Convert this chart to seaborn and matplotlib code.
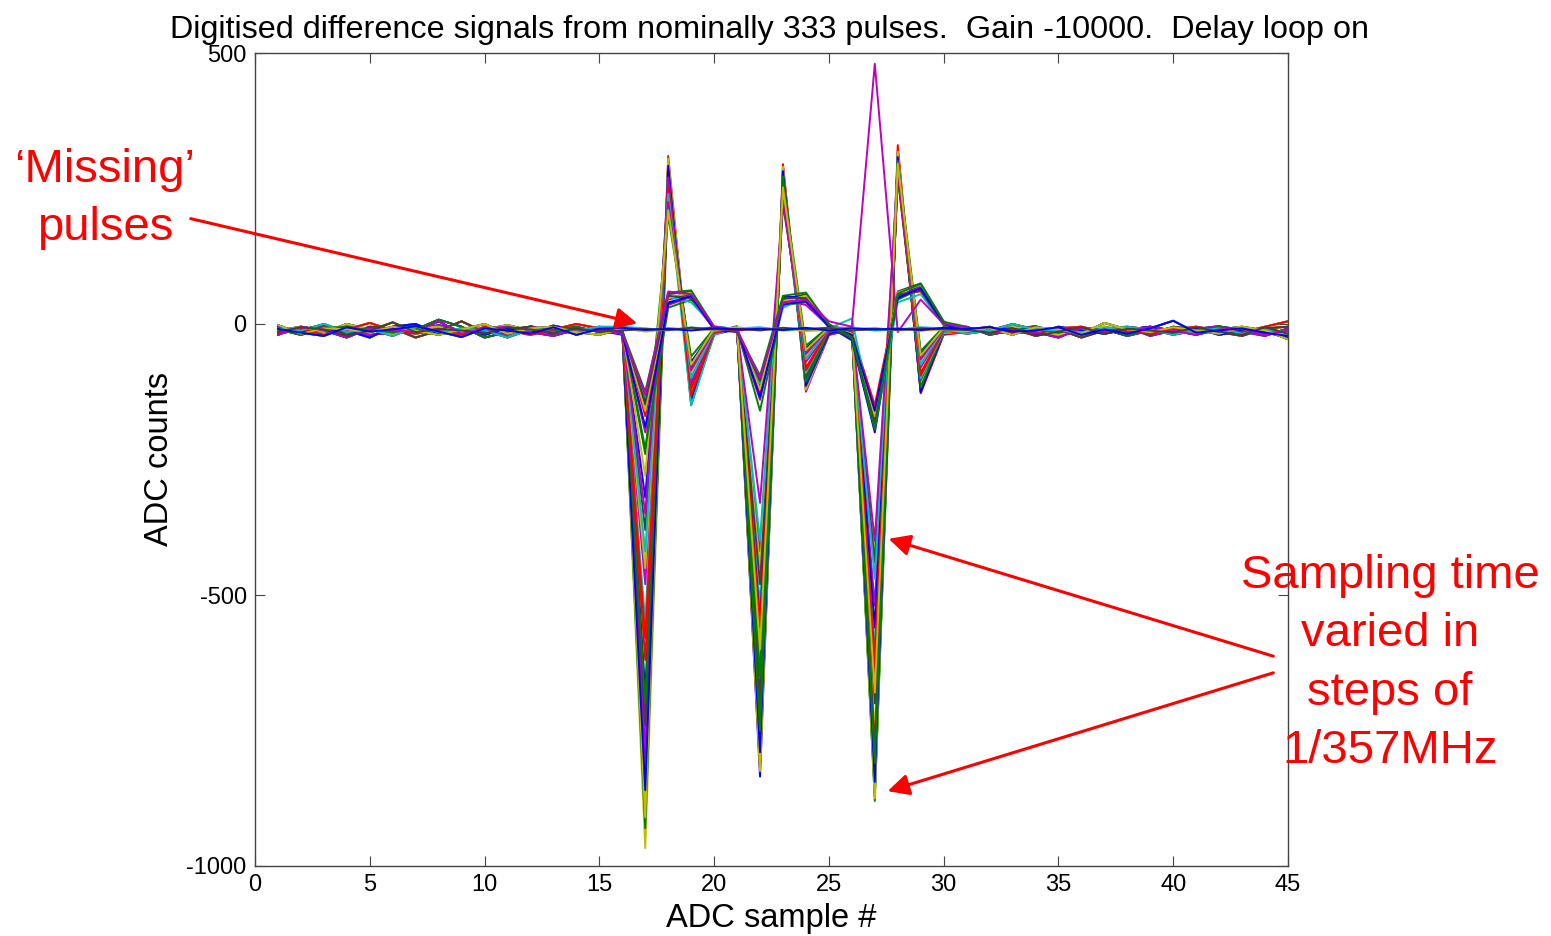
import numpy as np
import pandas as pd
import matplotlib
matplotlib.use("Agg")
import matplotlib.pyplot as plt
import seaborn as sns

# ADC sample index
samples = list(range(1, 46))

# baseline noise before the pulse train (samples 1..15)
pre_noise = [
    [-12, -5, -15, 0, -10, -20, -8, -5, -15, -10, -2, -12, -8, -18, -10],
    [-18, -10, -2, -20, -5, -8, -25, -12, 5, -15, -10, -5, -20, -8, -12],
    [-5, -15, -10, -12, -25, -5, 0, -18, -10, -20, -8, -15, -3, -12, -6],
    [-10, -20, -8, -5, -12, -15, -10, 8, -5, -25, -15, -8, -12, -5, -15],
    [-15, -8, -20, -10, 2, -12, -18, -10, -20, -5, -12, -20, -10, 0, -8],
    [-8, -12, 0, -15, -10, -22, -5, -15, -8, -12, -25, -10, -15, -12, -5],
    [-20, -5, -12, -25, -8, -10, -15, 5, -18, -8, -5, -15, -22, -10, -12],
    [-2, -18, -8, -10, -15, -5, -12, -20, -10, 0, -18, -8, -5, -15, -20],
    [-14, -6, -10, -22, -12, 3, -15, -9, -12, -18, -6, -10, -16, -9, -14],
    [-9, -16, -22, -6, -14, -10, -4, -14, -24, -8, -12, -18, -6, -20, -9],
    [-16, -11, -6, -14, -20, -16, -12, -2, -12, -14, -20, -4, -14, -16, -11],
]

# baseline noise after the pulse train (samples 31..45)
post_noise = [
    [-8, -15, -5, -12, -20, -10, -5, -15, -8, -12, -18, -10, -5, -12, -20],
    [-12, -5, -18, -8, -10, -25, -12, -8, -20, -5, -10, -15, -22, -8, -5],
    [-15, -10, -8, -20, -5, -12, -18, -10, -5, -15, -8, -20, -12, -15, -25],
    [-5, -20, -12, -5, -15, -8, -10, -22, -12, -8, -15, -5, -10, -18, -10],
    [-10, -8, -15, -18, -8, -5, -15, -12, -18, -10, -5, -12, -15, -5, 5],
    [-18, -12, 0, -10, -12, -15, -8, -5, -10, -20, -12, -8, -18, -10, -15],
    [-6, -18, -10, -15, -25, -8, -12, -15, -5, -12, -20, -10, -8, -20, -12],
    [-14, -8, -20, -6, -10, -18, 2, -10, -15, -6, -12, -18, -6, -12, -28],
    [-11, -16, -8, -22, -14, -6, -18, -9, -12, -16, -6, -14, -20, -6, -18],
    [-9, -6, -14, -12, -6, -20, -10, -18, -8, 6, -16, -12, -8, -16, -22],
    [-16, -12, -10, -4, -18, -12, -14, -6, -22, -12, -9, -4, -14, -22, -8],
]

# pulse window, samples 16..30, one row per pulse
pulse_windows = [
    # deep (sampled near the peak)
    [-10, -900, 300, -135, -18, -8, -835, 285, -120, -20, -10, -870, 320, -125, -18],
    [-5, -850, 280, -150, -15, -5, -780, 270, -105, -12, -8, -880, 300, -110, -15],
    [-12, -800, 310, -120, -12, -10, -820, 295, -115, -18, -5, -840, 330, -128, -20],
    [-8, -760, 270, -140, -20, -6, -740, 260, -95, -10, -12, -800, 290, -100, -12],
    [-10, -720, 290, -110, -15, -4, -800, 290, -125, -20, -10, -850, 310, -105, -15],
    [-6, -967, 260, -125, -10, -9, -700, 250, -110, -15, -6, -760, 280, -120, -10],
    [-14, -880, 250, -130, -18, -7, -650, 240, -90, -12, -8, -700, 270, -95, -12],
    [-9, -680, 240, -100, -12, -10, -760, 280, -100, -16, -7, -820, 295, -115, -18],
    [-11, -930, 285, -145, -16, -6, -810, 275, -118, -14, -9, -865, 305, -112, -16],
    [-7, -820, 265, -128, -14, -8, -720, 265, -100, -12, -11, -780, 285, -108, -14],
    [-13, -870, 295, -118, -14, -7, -800, 278, -112, -15, -9, -855, 312, -118, -16],
    [-8, -790, 275, -138, -17, -9, -770, 268, -108, -13, -6, -830, 298, -122, -13],
    [-10, -910, 305, -126, -15, -5, -825, 290, -121, -17, -10, -875, 318, -109, -17],
    [-6, -740, 255, -112, -12, -8, -690, 248, -97, -11, -7, -790, 282, -103, -12],
    [-12, -860, 292, -142, -19, -10, -790, 282, -114, -18, -8, -845, 308, -126, -15],
    [-9, -700, 262, -105, -13, -6, -750, 272, -106, -14, -11, -810, 292, -117, -14],
    # medium
    [-10, -620, 260, -120, -15, -8, -600, 255, -80, -12, -10, -650, 280, -90, -12],
    [-12, -550, 245, -150, -20, -6, -520, 240, -90, -10, -8, -600, 290, -100, -15],
    [-8, -480, 270, -110, -15, -10, -420, 230, -70, -12, -12, -520, 300, -80, -10],
    [-10, -450, 230, -90, -12, -8, -450, 250, -60, -8, -6, -420, 285, -70, -10],
    [-15, -380, 250, -80, -10, -12, -480, 220, -50, -10, -10, -440, 275, -60, -8],
    [-12, -320, 220, -70, -10, -10, -550, 245, -45, -6, -8, -560, 290, -55, -6],
    [-10, -240, 200, -60, -8, -8, -650, 260, -40, -5, -10, -620, 300, -50, -5],
    [-11, -580, 255, -132, -16, -9, -560, 250, -85, -11, -9, -620, 288, -95, -12],
    [-9, -420, 240, -100, -13, -7, -400, 235, -65, -9, -11, -470, 292, -75, -9],
    [-13, -350, 225, -85, -11, -11, -330, 228, -55, -8, -9, -400, 278, -65, -8],
    [-10, -280, 210, -75, -9, -9, -600, 252, -48, -7, -12, -680, 296, -58, -7],
    # shallow (late sampling)
    [-15, -135, 55, 60, -5, -12, -100, 45, 55, 0, -25, -165, 60, 75, 5],
    [-20, -150, 40, 50, -10, -15, -115, 50, 50, -5, -30, -200, 50, 70, 0],
    [-10, -230, 30, 45, -8, -10, -160, 35, 40, -5, -20, -180, 45, 65, 0],
    [-12, -170, 45, 55, -6, -8, -130, 40, 45, -2, -15, -150, 55, 60, 2],
    [-18, -140, 50, 40, -4, -10, -110, 30, 50, -8, 10, -190, 40, 55, -2],
    [-14, -200, 35, 50, -10, -12, -140, 45, 35, -4, -22, -175, 50, 68, 0],
    [-16, -160, 48, 58, -7, -11, -120, 42, 52, -3, -18, -170, 58, 72, 3],
    [-12, -145, 52, 48, -6, -13, -105, 48, 48, -6, -26, -185, 52, 62, -1],
    [-17, -190, 38, 52, -9, -9, -135, 36, 42, -4, -20, -160, 48, 66, 1],
    [-13, -125, 58, 62, -5, -14, -95, 52, 58, -1, -24, -195, 56, 74, 4],
    # 'missing' pulses and the odd one out
    [-10, -12, -8, -10, -6, -12, -8, -10, -9, -7, -11, -10, -8, -12, -9],
    [-5, -8, -12, -6, -10, -8, -6, -12, -10, -9, -7, -12, -10, -6, -8],
    [-18, -130, 60, 55, -5, -10, -100, 40, 45, 5, -5, 480, -15, 45, 0],
    [-8, -14, -10, -9, -12, -6, -10, -8, -13, -11, -9, -7, -12, -10, -11],
    [-12, -9, -11, -7, -10, -9, -12, -7, -10, -8, -12, -9, -11, -8, -10],
    [-7, -11, -9, -12, -8, -10, -9, -11, -7, -12, -8, -10, -9, -11, -7],
]

# old MATLAB line colour order
matlab_colors = ["#0000ff", "#008000", "#ff0000", "#00bfbf", "#bf00bf", "#bfbf00", "#404040"]

rows = []
for i, win in enumerate(pulse_windows):
    k = i % len(pre_noise)
    trace = pre_noise[k] + win + post_noise[k]
    for s, v in zip(samples, trace):
        rows.append({"sample": s, "adc": v, "pulse": i})
df = pd.DataFrame(rows)

sns.set_style("ticks")
plt.rcParams["font.family"] = ["Liberation Sans", "DejaVu Sans"]
plt.rcParams["axes.unicode_minus"] = False
for key in ["text.color", "axes.labelcolor", "xtick.labelcolor", "ytick.labelcolor"]:
    plt.rcParams[key] = "black"

fig = plt.figure(figsize=(15.51, 9.36), dpi=100)
ax = fig.add_axes([255 / 1551, 1 - 866 / 936, 1033 / 1551, 813 / 936])

palette = [matlab_colors[i % len(matlab_colors)] for i in range(len(pulse_windows))]
sns.lineplot(data=df, x="sample", y="adc", hue="pulse", palette=palette,
             legend=False, estimator=None, sort=False, lw=1.4, ax=ax)

ax.set_xlim(0, 45)
ax.set_ylim(-1000, 500)
ax.set_xticks(range(0, 46, 5))
ax.set_yticks([-1000, -500, 0, 500])
ax.tick_params(direction="in", length=7, width=0.8, top=True, right=True,
               labelsize=17, color="#444444", labelcolor="black", pad=6)
for sp in ax.spines.values():
    sp.set_visible(True)
    sp.set_color("#444444")
    sp.set_linewidth(1.0)

ax.set_xlabel("ADC sample #", fontsize=23.5, color="black")
ax.set_ylabel("ADC counts", fontsize=23.5, color="black")
ax.xaxis.set_label_coords(0.5, -0.046)
ax.yaxis.set_label_coords(-0.077, 0.5)

fig.text(770 / 1551, 1 - 38 / 936,
         "Digitised difference signals from nominally 333 pulses.  Gain -10000.  Delay loop on",
         ha="center", va="baseline", fontsize=23.3, color="black")

# red annotations (va='baseline' anchors the last line)
fig.text(105 / 1551, 1 - 240 / 936, "\u2018Missing\u2019\npulses", color="red",
         ha="center", va="baseline", fontsize=34, linespacing=1.42)
fig.text(1390 / 1551, 1 - 763 / 936, "Sampling time\nvaried in\nsteps of\n1/357MHz",
         color="red", ha="center", va="baseline", fontsize=34, linespacing=1.42)

arrow = dict(arrowstyle="-|>", color="red", lw=2.2, mutation_scale=32)
ax.annotate("", xy=(640, 936 - 324), xytext=(188, 936 - 218),
            xycoords="figure pixels", textcoords="figure pixels", arrowprops=arrow)
ax.annotate("", xy=(886, 936 - 538), xytext=(1276, 936 - 657),
            xycoords="figure pixels", textcoords="figure pixels", arrowprops=arrow)
ax.annotate("", xy=(885, 936 - 792), xytext=(1276, 936 - 672),
            xycoords="figure pixels", textcoords="figure pixels", arrowprops=arrow)

fig.savefig("out.png", dpi=100)
